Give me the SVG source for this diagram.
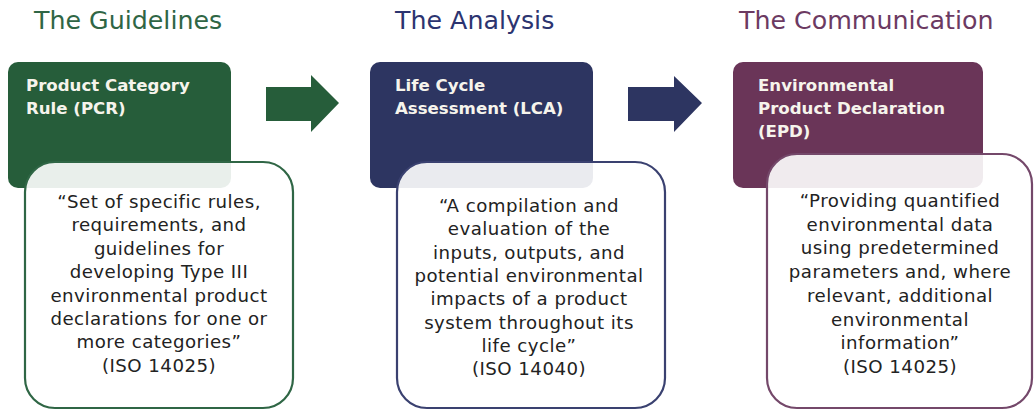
<svg xmlns="http://www.w3.org/2000/svg" width="1034" height="410" viewBox="0 0 1034 410">
<style>
.hdr{font-family:"DejaVu Sans","Liberation Sans",sans-serif;font-size:25.3px}
.ttl{font-family:"DejaVu Sans","Liberation Sans",sans-serif;font-size:16.6px;font-weight:bold;fill:#f6f4ec}
.body{font-family:"DejaVu Sans","Liberation Sans",sans-serif;font-size:18.2px;letter-spacing:0.45px;fill:#222222;text-anchor:middle}
.card{stroke-width:2.2;fill:#ffffff;fill-opacity:0.9}
</style>
<rect width="1034" height="410" fill="#ffffff"/>
<g id="col-pcr">
<text class="hdr" x="34" y="29" fill="#2f6645">The Guidelines</text>
<rect x="8" y="62" width="223" height="126" rx="10" fill="#265d3a"/>
<text class="ttl" x="26" y="91">Product Category</text>
<text class="ttl" x="26" y="114">Rule (PCR)</text>
<rect class="card" x="25" y="162" width="268" height="246" rx="30" stroke="#2f6645"/>
<text class="body"><tspan x="159" y="208">“Set of specific rules,</tspan><tspan x="159" y="231.4">requirements, and</tspan><tspan x="159" y="254.8">guidelines for</tspan><tspan x="159" y="278.2">developing Type III</tspan><tspan x="159" y="301.6">environmental product</tspan><tspan x="159" y="325">declarations for one or</tspan><tspan x="159" y="348.4">more categories”</tspan><tspan x="159" y="371.8">(ISO 14025)</tspan></text>
</g>
<g id="col-lca">
<text class="hdr" x="395" y="29" fill="#2c3470">The Analysis</text>
<rect x="370" y="62" width="223" height="126" rx="10" fill="#2d3561"/>
<text class="ttl" x="395" y="91">Life Cycle</text>
<text class="ttl" x="395" y="114">Assessment (LCA)</text>
<rect class="card" x="397" y="162" width="268" height="246" rx="30" stroke="#3a4170"/>
<text class="body"><tspan x="529" y="212">“A compilation and</tspan><tspan x="529" y="235.3">evaluation of the</tspan><tspan x="529" y="258.6">inputs, outputs, and</tspan><tspan x="529" y="281.9">potential environmental</tspan><tspan x="529" y="305.2">impacts of a product</tspan><tspan x="529" y="328.5">system throughout its</tspan><tspan x="529" y="351.8">life cycle”</tspan><tspan x="529" y="375.1">(ISO 14040)</tspan></text>
</g>
<g id="col-epd">
<text class="hdr" x="739" y="29" fill="#6c3a62">The Communication</text>
<rect x="733" y="62" width="250" height="126" rx="10" fill="#6a3558"/>
<text class="ttl" x="758" y="91">Environmental</text>
<text class="ttl" x="758" y="114">Product Declaration</text>
<text class="ttl" x="758" y="137">(EPD)</text>
<rect class="card" x="767" y="154" width="265" height="254" rx="30" stroke="#74486a"/>
<text class="body"><tspan x="900" y="207">“Providing quantified</tspan><tspan x="900" y="230.7">environmental data</tspan><tspan x="900" y="254.4">using predetermined</tspan><tspan x="900" y="278.1">parameters and, where</tspan><tspan x="900" y="301.8">relevant, additional</tspan><tspan x="900" y="325.5">environmental</tspan><tspan x="900" y="349.2">information”</tspan><tspan x="900" y="372.9">(ISO 14025)</tspan></text>
</g>
<g id="connectors">
<polygon points="266,87 311,87 311,75 339,103 311,132 311,121 266,121" fill="#265d3a"/>
<polygon points="628,87 674,87 674,76 702,103 674,132 674,121 628,121" fill="#2d3561"/>
</g>
</svg>
